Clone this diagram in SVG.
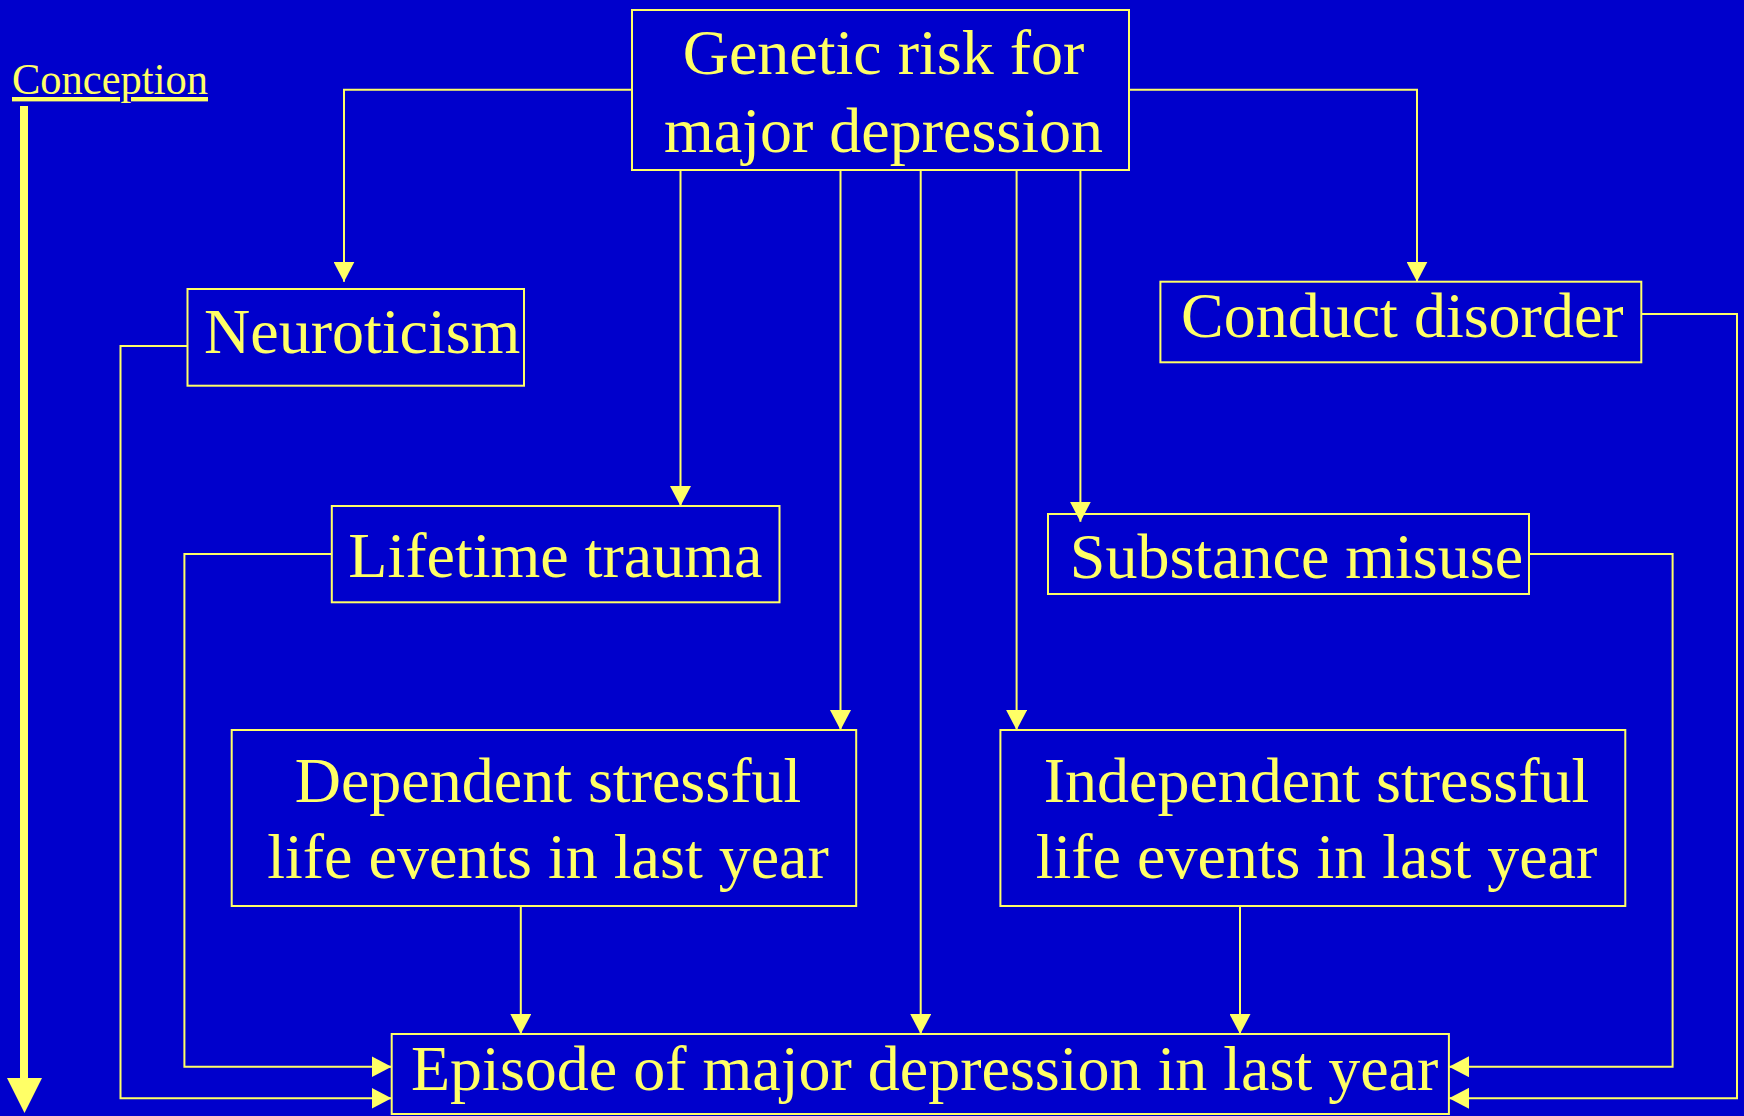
<svg xmlns="http://www.w3.org/2000/svg" width="1744" height="1116" viewBox="0 0 1744 1116">
<defs>
<style>
.bg{fill:#0000CC}
.box{fill:none;stroke:#FFFF66;stroke-width:2}
.t{font-family:"Liberation Serif","Times New Roman",serif;font-size:64px;fill:#FFFF66}
.c{fill:none;stroke:#FFFF66;stroke-width:2}
</style>
<marker id="ah" markerUnits="userSpaceOnUse" markerWidth="20" markerHeight="21" refX="20" refY="10.5" orient="auto" viewBox="0 0 20 21">
<path d="M0,0 L20,10.5 L0,21 z" fill="#FFFF66"/>
</marker>
</defs>
<rect class="bg" x="0" y="0" width="1744" height="1116"/>

<g id="timeline">
<text x="12" y="94" font-family="Liberation Serif, serif" font-size="44" fill="#FFFF66" text-decoration="underline" textLength="196" lengthAdjust="spacingAndGlyphs">Conception</text>
<rect x="20" y="106" width="8" height="974" fill="#FFFF66"/>
<polygon points="7,1078 42,1078 24.5,1113" fill="#FFFF66"/>
</g>

<g id="connectors">
<polyline class="c" points="632,89.7 344,89.7 344,281.7" marker-end="url(#ah)"/>
<polyline class="c" points="1129,89.7 1417,89.7 1417,281.7" marker-end="url(#ah)"/>
<line class="c" x1="680.5" y1="170" x2="680.5" y2="506" marker-end="url(#ah)"/>
<line class="c" x1="840.5" y1="170" x2="840.5" y2="730" marker-end="url(#ah)"/>
<line class="c" x1="920.7" y1="170" x2="920.7" y2="1034" marker-end="url(#ah)"/>
<line class="c" x1="1016.6" y1="170" x2="1016.6" y2="730" marker-end="url(#ah)"/>
<line class="c" x1="1080.4" y1="170" x2="1080.4" y2="521.7" marker-end="url(#ah)"/>
<polyline class="c" points="187.5,346 120.5,346 120.5,1098.3 391.5,1098.3" marker-end="url(#ah)"/>
<polyline class="c" points="331.8,554 184.4,554 184.4,1066.7 391.5,1066.7" marker-end="url(#ah)"/>
<line class="c" x1="520.8" y1="906" x2="520.8" y2="1034" marker-end="url(#ah)"/>
<line class="c" x1="1240" y1="906" x2="1240" y2="1034" marker-end="url(#ah)"/>
<polyline class="c" points="1529,554 1672.6,554 1672.6,1066.7 1449,1066.7" marker-end="url(#ah)"/>
<polyline class="c" points="1641.3,314 1737,314 1737,1098.3 1449,1098.3" marker-end="url(#ah)"/>
</g>

<g id="genetic">
<rect class="box" x="632" y="10" width="497" height="160"/>
<text class="t" x="883.5" y="74" text-anchor="middle">Genetic risk for</text>
<text class="t" x="883.5" y="152" text-anchor="middle">major depression</text>
</g>

<g id="neuroticism">
<rect class="box" x="187.5" y="289" width="336.5" height="96.7"/>
<text class="t" x="204" y="353">Neuroticism</text>
</g>

<g id="conduct">
<rect class="box" x="1160.4" y="281.7" width="480.9" height="80.6"/>
<text class="t" x="1181" y="337.3">Conduct disorder</text>
</g>

<g id="lifetime">
<rect class="box" x="331.8" y="506" width="447.7" height="96.3"/>
<text class="t" x="348.3" y="577.3">Lifetime trauma</text>
</g>

<g id="substance">
<rect class="box" x="1048" y="514" width="481" height="80"/>
<text class="t" x="1069.8" y="577.7">Substance misuse</text>
</g>

<g id="dependent">
<rect class="box" x="231.7" y="730" width="624.5" height="176"/>
<text class="t" x="548" y="801.7" text-anchor="middle">Dependent stressful</text>
<text class="t" x="548" y="878.3" text-anchor="middle">life events in last year</text>
</g>

<g id="independent">
<rect class="box" x="1000.4" y="730" width="624.9" height="176"/>
<text class="t" x="1316.5" y="801.7" text-anchor="middle">Independent stressful</text>
<text class="t" x="1316.5" y="878.3" text-anchor="middle">life events in last year</text>
</g>

<g id="episode">
<rect class="box" x="391.7" y="1034" width="1057.2" height="80"/>
<text class="t" x="411" y="1090">Episode of major depression in last year</text>
</g>
</svg>
